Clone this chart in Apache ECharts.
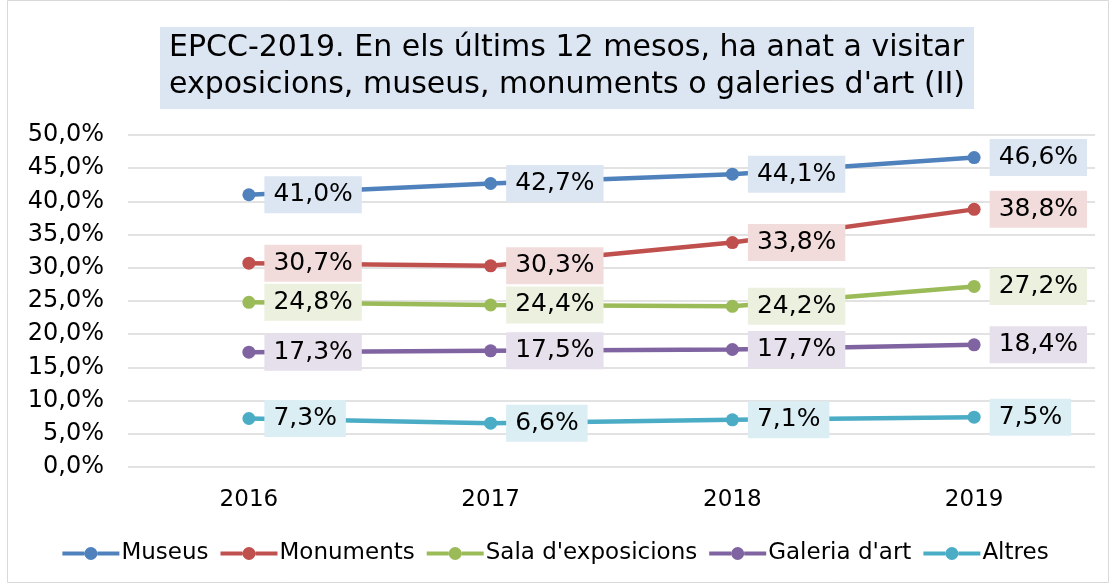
<!DOCTYPE html>
<html>
<head>
<meta charset="utf-8">
<script src="https://cdn.jsdelivr.net/npm/echarts@6/dist/echarts.min.js"></script>
<style>
  html, body { margin: 0; padding: 0; background: #fff; }
  #chart { width: 1111px; height: 584px; }
</style>
</head>
<body>
<div id="chart"></div>
<script>
var years = ['2016', '2017', '2018', '2019']
var museus = [41.0, 42.7, 44.1, 46.6]
var monuments = [30.7, 30.3, 33.8, 38.8]
var salaExpo = [24.8, 24.4, 24.2, 27.2]
var galeria = [17.3, 17.5, 17.7, 18.4]
var altres = [7.3, 6.6, 7.1, 7.5]

var font = 'DejaVu Sans, Verdana, sans-serif'

function fmt (v) {
  return v.toFixed(1).replace('.', ',') + '%'
}

function line (name, data, color, labelBg) {
  return {
    name: name,
    type: 'line',
    data: data,
    symbol: 'circle',
    symbolSize: 13,
    lineStyle: { color: color, width: 4.5 },
    itemStyle: { color: color },
    label: {
      show: true,
      position: 'right',
      distance: 9,
      formatter: function (p) { return fmt(p.value) },
      backgroundColor: labelBg,
      padding: [7, 9, 5, 9],
      color: '#000',
      fontFamily: font,
      fontSize: 25
    }
  }
}

var chart = echarts.init(document.getElementById('chart'))
chart.setOption({
  animation: false,
  textStyle: { fontFamily: font },
  graphic: [{
    type: 'rect',
    shape: { x: 7.5, y: 0.5, width: 1101, height: 582 },
    style: { fill: 'none', stroke: '#d9d9d9', lineWidth: 1 },
    silent: true
  }],
  title: {
    text: 'EPCC-2019. En els últims 12 mesos, ha anat a visitar\nexposicions, museus, monuments o galeries d\'art (II)',
    left: 160,
    top: 27,
    backgroundColor: '#dce6f2',
    padding: [3, 9, 5, 9],
    textStyle: {
      fontFamily: font,
      fontSize: 30,
      fontWeight: 'normal',
      color: '#000',
      lineHeight: 37
    }
  },
  legend: {
    bottom: 14,
    left: 'center',
    itemWidth: 57,
    itemHeight: 14,
    itemGap: 12,
    icon: 'path://M0,5 L22,5 L22,9 L0,9 Z M35,5 L57,5 L57,9 L35,9 Z M22,7 A6.5,6.5 0 1 0 35,7 A6.5,6.5 0 1 0 22,7 Z',
    textStyle: { fontFamily: font, fontSize: 23, color: '#000', padding: [0, 0, 0, -3] },
    data: ['Museus', 'Monuments', "Sala d'exposicions", "Galeria d'art", 'Altres']
  },
  grid: {
    left: 128,
    right: 16,
    top: 135,
    bottom: 117
  },
  xAxis: {
    type: 'category',
    data: years,
    axisLine: { show: false },
    axisTick: { show: false },
    axisLabel: { color: '#000', fontSize: 23, margin: 22, fontFamily: font }
  },
  yAxis: {
    type: 'value',
    min: 0,
    max: 50,
    interval: 5,
    axisLine: { show: false },
    axisTick: { show: false },
    axisLabel: {
      color: '#000',
      fontSize: 24,
      margin: 24,
      fontFamily: font,
      formatter: function (v) { return fmt(v) }
    },
    splitLine: { lineStyle: { color: '#d9d9d9', width: 1.5 } }
  },
  series: [
    line('Museus', museus, '#4f81bd', '#dce6f2'),
    line('Monuments', monuments, '#c0504d', '#f2dcdb'),
    line("Sala d'exposicions", salaExpo, '#9bbb59', '#ebf1de'),
    line("Galeria d'art", galeria, '#8064a2', '#e6e0ec'),
    line('Altres', altres, '#4bacc6', '#dbeef4')
  ]
})
</script>
</body>
</html>
